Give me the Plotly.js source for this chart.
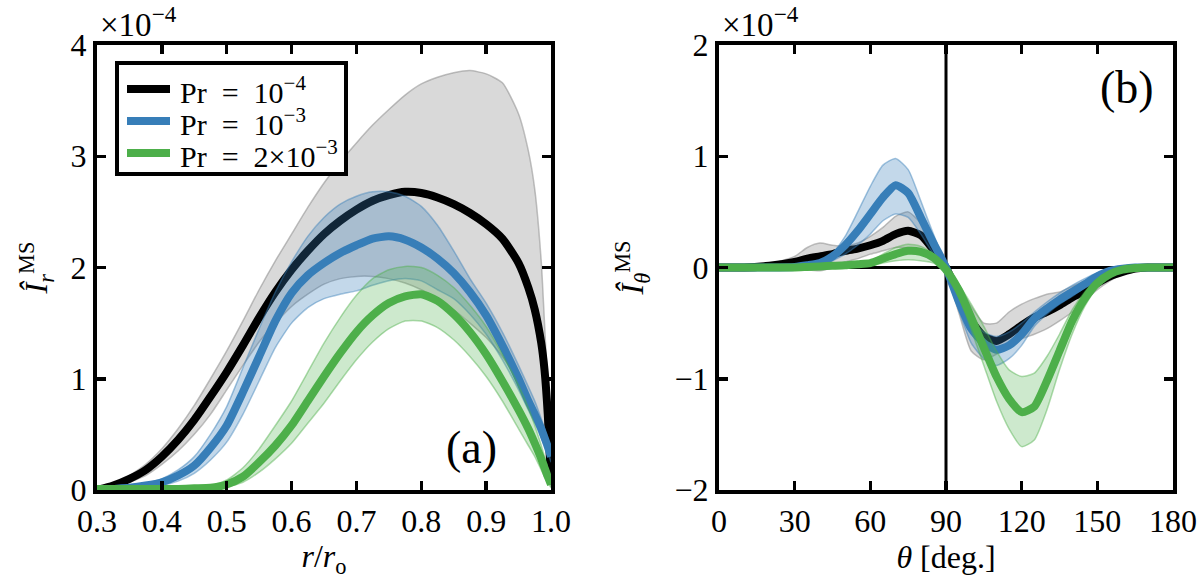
<!DOCTYPE html>
<html>
<head>
<meta charset="utf-8">
<script src="https://cdn.plot.ly/plotly-3.0.1.min.js"></script>
<style>html,body{margin:0;padding:0;background:#fff;}#chart{width:1200px;height:579px;}</style>
</head>
<body>
<div id="chart"></div>
<script>
// ---------- Panel (a): radial profile, values in units of 1e-4 ----------
const rVals = [0.3, 0.325, 0.35, 0.375, 0.4, 0.425, 0.45, 0.475, 0.5, 0.525, 0.55, 0.575, 0.6, 0.625, 0.65, 0.675, 0.7, 0.725, 0.75, 0.775, 0.8, 0.825, 0.85, 0.875, 0.9, 0.925, 0.95, 0.965, 0.975, 0.985, 0.99, 0.995, 1.0];

const pr4R   = [0, 0.04, 0.1, 0.18, 0.3, 0.45, 0.63, 0.84, 1.06, 1.3, 1.55, 1.78, 1.98, 2.15, 2.3, 2.42, 2.52, 2.6, 2.65, 2.68, 2.67, 2.63, 2.57, 2.49, 2.39, 2.26, 2.04, 1.82, 1.62, 1.32, 1.08, 0.68, 0.05];
const pr4RUp = [0, 0.05, 0.13, 0.23, 0.37, 0.55, 0.76, 1.0, 1.25, 1.52, 1.8, 2.06, 2.3, 2.54, 2.76, 2.95, 3.12, 3.28, 3.42, 3.55, 3.65, 3.71, 3.75, 3.77, 3.74, 3.66, 3.38, 3.05, 2.7, 2.05, 1.5, 0.9, 0.1];
const pr4RLo = [0, 0.02, 0.07, 0.13, 0.23, 0.35, 0.5, 0.68, 0.9, 1.12, 1.33, 1.5, 1.65, 1.76, 1.85, 1.9, 1.92, 1.92, 1.9, 1.86, 1.8, 1.72, 1.62, 1.5, 1.37, 1.2, 0.98, 0.82, 0.7, 0.55, 0.45, 0.3, 0.03];

const pr3R   = [0, 0.01, 0.02, 0.04, 0.07, 0.13, 0.22, 0.38, 0.58, 0.88, 1.2, 1.52, 1.77, 1.93, 2.04, 2.13, 2.2, 2.26, 2.28, 2.25, 2.18, 2.08, 1.95, 1.78, 1.57, 1.3, 1.0, 0.8, 0.68, 0.55, 0.47, 0.39, 0.3];
const pr3RUp = [0, 0.01, 0.03, 0.06, 0.1, 0.18, 0.3, 0.5, 0.75, 1.1, 1.45, 1.78, 2.05, 2.28, 2.45, 2.57, 2.64, 2.68, 2.68, 2.64, 2.55, 2.38, 2.15, 1.9, 1.68, 1.42, 1.12, 0.93, 0.8, 0.64, 0.55, 0.46, 0.35];
const pr3RLo = [0, 0.005, 0.01, 0.02, 0.04, 0.08, 0.15, 0.27, 0.43, 0.68, 0.98, 1.28, 1.5, 1.64, 1.72, 1.76, 1.79, 1.84, 1.88, 1.9, 1.88, 1.8, 1.72, 1.58, 1.4, 1.17, 0.9, 0.72, 0.6, 0.47, 0.4, 0.33, 0.25];

const pr2R   = [0.01, 0.01, 0.01, 0.01, 0.01, 0.01, 0.015, 0.02, 0.05, 0.12, 0.25, 0.4, 0.58, 0.8, 1.02, 1.23, 1.42, 1.57, 1.68, 1.74, 1.76, 1.7, 1.58, 1.42, 1.22, 0.98, 0.72, 0.55, 0.42, 0.28, 0.2, 0.12, 0.05];
const pr2RUp = [0.01, 0.01, 0.01, 0.01, 0.01, 0.01, 0.02, 0.04, 0.09, 0.2, 0.37, 0.58, 0.8, 1.06, 1.32, 1.55, 1.75, 1.9, 1.98, 2.01, 2.0, 1.93, 1.82, 1.66, 1.47, 1.22, 0.94, 0.74, 0.58, 0.4, 0.3, 0.2, 0.08];
const pr2RLo = [0.005, 0.005, 0.005, 0.005, 0.005, 0.005, 0.01, 0.01, 0.03, 0.07, 0.16, 0.28, 0.42, 0.6, 0.78, 0.98, 1.17, 1.33, 1.45, 1.52, 1.52, 1.46, 1.35, 1.2, 1.02, 0.8, 0.55, 0.4, 0.3, 0.18, 0.12, 0.07, 0.02];

// ---------- Panel (b): latitudinal profile, values in units of 1e-4 ----------
const thVals = [0, 10, 20, 30, 35, 40, 45, 50, 55, 60, 65, 70, 75, 80, 85, 90, 95, 100, 105, 110, 115, 120, 125, 130, 135, 140, 145, 150, 155, 160, 165, 170, 180];

const pr4T   = [0, 0, 0.015, 0.05, 0.08, 0.1, 0.12, 0.15, 0.17, 0.2, 0.24, 0.3, 0.33, 0.29, 0.16, 0.0, -0.25, -0.48, -0.62, -0.66, -0.6, -0.52, -0.45, -0.4, -0.34, -0.27, -0.21, -0.14, -0.08, -0.04, -0.01, 0, 0];
const pr4TUp = [0, 0, 0.03, 0.1, 0.18, 0.22, 0.2, 0.19, 0.22, 0.28, 0.36, 0.46, 0.5, 0.4, 0.22, 0.02, -0.15, -0.35, -0.5, -0.5, -0.4, -0.33, -0.28, -0.24, -0.22, -0.17, -0.12, -0.08, -0.04, -0.02, 0, 0, 0];
const pr4TLo = [0, 0, 0, 0, -0.02, -0.03, 0, 0.05, 0.08, 0.12, 0.15, 0.18, 0.17, 0.12, 0.05, -0.06, -0.4, -0.75, -0.83, -0.78, -0.7, -0.64, -0.6, -0.55, -0.48, -0.4, -0.3, -0.2, -0.12, -0.06, -0.02, 0, 0];

const pr3T   = [0, 0, 0, 0.005, 0.02, 0.04, 0.1, 0.2, 0.33, 0.48, 0.63, 0.74, 0.67, 0.45, 0.22, 0.0, -0.3, -0.55, -0.68, -0.74, -0.7, -0.6, -0.46, -0.37, -0.29, -0.22, -0.15, -0.08, -0.03, -0.01, 0, 0, 0];
const pr3TUp = [0, 0, 0, 0.01, 0.03, 0.06, 0.13, 0.28, 0.5, 0.73, 0.92, 0.98, 0.88, 0.6, 0.3, 0.02, -0.2, -0.45, -0.58, -0.62, -0.58, -0.5, -0.4, -0.31, -0.23, -0.16, -0.1, -0.05, -0.02, 0, 0, 0, 0];
const pr3TLo = [0, 0, 0, 0, 0.01, 0.02, 0.06, 0.12, 0.2, 0.3, 0.42, 0.48, 0.45, 0.3, 0.12, -0.03, -0.38, -0.68, -0.82, -0.88, -0.82, -0.7, -0.53, -0.42, -0.33, -0.26, -0.18, -0.1, -0.04, -0.01, 0, 0, 0];

const pr2T   = [0, 0, 0, 0, 0.005, 0.01, 0.015, 0.02, 0.03, 0.04, 0.08, 0.12, 0.15, 0.14, 0.09, -0.02, -0.2, -0.45, -0.72, -0.98, -1.18, -1.3, -1.25, -1.02, -0.75, -0.48, -0.28, -0.14, -0.06, -0.02, -0.005, 0, 0];
const pr2TUp = [0, 0, 0, 0, 0.01, 0.02, 0.03, 0.04, 0.05, 0.06, 0.12, 0.18, 0.21, 0.19, 0.12, 0.0, -0.15, -0.33, -0.53, -0.75, -0.92, -0.98, -0.95, -0.8, -0.6, -0.38, -0.22, -0.1, -0.04, -0.01, 0, 0, 0];
const pr2TLo = [0, 0, 0, 0, 0, 0, 0.005, 0.01, 0.015, 0.02, 0.04, 0.06, 0.07, 0.06, 0.04, -0.05, -0.26, -0.56, -0.88, -1.2, -1.45, -1.61, -1.55, -1.28, -0.92, -0.6, -0.35, -0.18, -0.08, -0.03, -0.01, 0, 0];

const seriesNames = ['Pr\u2002=\u200210<sup>\u22124</sup>', 'Pr\u2002=\u200210<sup>\u22123</sup>', 'Pr\u2002=\u20022\u00d710<sup>\u22123</sup>'];
const tickR = [0.3, 0.4, 0.5, 0.6, 0.7, 0.8, 0.9, 1.0];
const tickTh = [0, 30, 60, 90, 120, 150, 180];

// ---------- styling ----------
const FONT = 'Liberation Serif';
const colors = ['#000000', '#377eb8', '#4daf4a'];
const bandFill = ['rgba(140,140,140,0.33)', 'rgba(55,126,184,0.30)', 'rgba(77,175,74,0.28)'];
const bandEdge = ['rgba(140,140,140,0.55)', 'rgba(55,126,184,0.45)', 'rgba(77,175,74,0.45)'];

function band(x, lo, up, i, xa, ya) {
  return [
    {x: x, y: lo, xaxis: xa, yaxis: ya, type: 'scatter', mode: 'lines', showlegend: false, hoverinfo: 'skip',
     line: {color: bandEdge[i], width: 1.5, shape: 'spline', smoothing: 0.6}},
    {x: x, y: up, xaxis: xa, yaxis: ya, type: 'scatter', mode: 'lines', showlegend: false, hoverinfo: 'skip',
     fill: 'tonexty', fillcolor: bandFill[i],
     line: {color: bandEdge[i], width: 1.5, shape: 'spline', smoothing: 0.6}}
  ];
}
function mean(x, y, i, xa, ya) {
  return {x: x, y: y, xaxis: xa, yaxis: ya, type: 'scatter', mode: 'lines', name: seriesNames[i],
          showlegend: false, line: {color: colors[i], width: 8, shape: 'spline', smoothing: 0.6}};
}

const leftSets = [[pr4R, pr4RLo, pr4RUp], [pr3R, pr3RLo, pr3RUp], [pr2R, pr2RLo, pr2RUp]];
const rightSets = [[pr4T, pr4TLo, pr4TUp], [pr3T, pr3TLo, pr3TUp], [pr2T, pr2TLo, pr2TUp]];

let data = [];
leftSets.forEach((s, i) => {
  data = data.concat(band(rVals, s[1], s[2], i, 'x', 'y'));
  data.push(mean(rVals, s[0], i, 'x', 'y'));
});
rightSets.forEach((s, i) => {
  data = data.concat(band(thVals, s[1], s[2], i, 'x2', 'y2'));
  data.push(mean(thVals, s[0], i, 'x2', 'y2'));
});

const W = 1200, H = 579;
const px = v => v / W, py = v => 1 - v / H;

const axCommon = {
  showline: true, linecolor: '#000', linewidth: 4, mirror: 'ticks',
  ticks: 'inside', ticklen: 9, tickwidth: 3.5, tickcolor: '#000',
  showgrid: false, zeroline: false, fixedrange: true,
  tickfont: {family: FONT, size: 32, color: '#000'}
};

// legend box drawn in the upper-left corner of panel (a)
const legendRows = [89, 121, 153];
const legendShapes = [
  {type: 'rect', xref: 'paper', yref: 'paper', x0: px(117), x1: px(346), y0: py(63), y1: py(174),
   fillcolor: '#fff', line: {color: '#000', width: 4}, layer: 'above'}
].concat(legendRows.map((yy, i) => ({
  type: 'line', xref: 'paper', yref: 'paper', x0: px(127), x1: px(170), y0: py(yy), y1: py(yy),
  line: {color: colors[i], width: 8}, layer: 'above'})));
const legendTexts = legendRows.map((yy, i) => ({
  text: seriesNames[i], xref: 'paper', yref: 'paper', x: px(178), y: py(yy + 1),
  xanchor: 'left', yanchor: 'middle', showarrow: false,
  font: {family: FONT, size: 30, color: '#000'}}));

const layout = {
  width: W, height: H,
  margin: {l: 0, r: 0, t: 0, b: 0},
  paper_bgcolor: '#fff', plot_bgcolor: '#fff',
  font: {family: FONT, color: '#000'},
  showlegend: false,
  xaxis: Object.assign({}, axCommon, {
    domain: [px(97), px(551)], range: [0.3, 1.0], tickvals: tickR, tickformat: '.1f',
    anchor: 'y',
    title: {text: '<i>r</i>/<i>r</i><sub>o</sub>', font: {family: FONT, size: 32, color: '#000'}, standoff: 6}
  }),
  yaxis: Object.assign({}, axCommon, {
    domain: [py(490), py(45)], range: [0, 4], dtick: 1, anchor: 'x',
    title: {text: '<i>\u00ce</i><sub><i>r</i></sub><sup>MS</sup>', font: {family: FONT, size: 32, color: '#000'}, standoff: 14}
  }),
  xaxis2: Object.assign({}, axCommon, {
    domain: [px(719), px(1173)], range: [0, 180], tickvals: tickTh, anchor: 'y2',
    title: {text: '<i>\u03b8</i> [deg.]', font: {family: FONT, size: 32, color: '#000'}, standoff: 6}
  }),
  yaxis2: Object.assign({}, axCommon, {
    domain: [py(490), py(45)], range: [-2, 2], dtick: 1, anchor: 'x2',
    zeroline: true, zerolinecolor: '#000', zerolinewidth: 3,
    title: {text: '<i>\u00ce</i><sub><i>\u03b8</i></sub><sup>MS</sup>', font: {family: FONT, size: 32, color: '#000'}, standoff: 22}
  }),
  shapes: [
    {type: 'line', xref: 'x2', yref: 'y2', x0: 90, x1: 90, y0: -2, y1: 2, layer: 'below',
     line: {color: '#000', width: 3}}
  ].concat(legendShapes),
  annotations: [
    {text: '\u00d710<sup>\u22124</sup>', xref: 'paper', yref: 'paper', x: px(98), y: py(22),
     xanchor: 'left', yanchor: 'middle', showarrow: false, font: {family: FONT, size: 33, color: '#000'}},
    {text: '\u00d710<sup>\u22124</sup>', xref: 'paper', yref: 'paper', x: px(720), y: py(22),
     xanchor: 'left', yanchor: 'middle', showarrow: false, font: {family: FONT, size: 33, color: '#000'}},
    {text: '(a)', xref: 'paper', yref: 'paper', x: px(471), y: py(447),
     xanchor: 'center', yanchor: 'middle', showarrow: false, font: {family: FONT, size: 46, color: '#000'}},
    {text: '(b)', xref: 'paper', yref: 'paper', x: px(1127), y: py(88),
     xanchor: 'center', yanchor: 'middle', showarrow: false, font: {family: FONT, size: 46, color: '#000'}}
  ].concat(legendTexts)
};

Plotly.newPlot('chart', data, layout, {displayModeBar: false, staticPlot: true});
</script>
</body>
</html>
